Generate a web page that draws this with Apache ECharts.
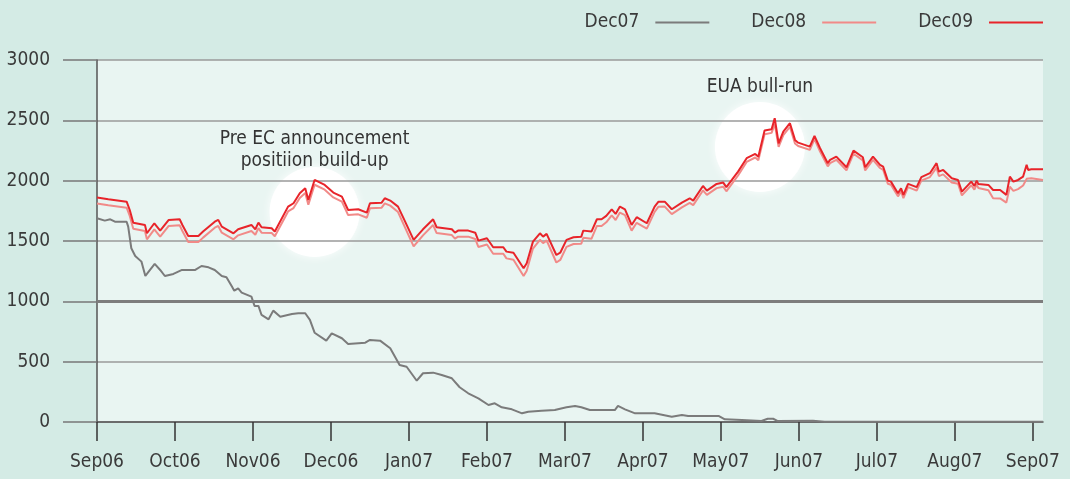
<!DOCTYPE html>
<html>
<head>
<meta charset="utf-8">
<script src="https://cdn.jsdelivr.net/npm/echarts@6/dist/echarts.min.js"></script>
<style>
	html, body { margin: 0; padding: 0; background: #d4ebe5; }
	#chartId { width: 1070px; height: 479px; }
</style>
</head>
<body>
<div id="chartId"></div>
<script>
// x positions are in months since Sep06 (0 = Sep06, 12 = Sep07)
var monthLabels = ["Sep06", "Oct06", "Nov06", "Dec06", "Jan07", "Feb07", "Mar07", "Apr07", "May07", "Jun07", "Jul07", "Aug07", "Sep07"];
var yTicks = [0, 500, 1000, 1500, 2000, 2500, 3000];

// Dec08 and Dec09 share the same dates
var futX = [0, 0.145, 0.38, 0.42, 0.465, 0.615, 0.64, 0.735, 0.81, 0.92, 1.06, 1.095, 1.17, 1.30, 1.36, 1.51, 1.555, 1.60, 1.75, 1.81,
	1.98, 2.03, 2.07, 2.11, 2.24, 2.28, 2.45, 2.52, 2.60, 2.67, 2.71, 2.79, 2.92, 3.03, 3.14, 3.22, 3.35, 3.46, 3.50, 3.65,
	3.69, 3.76, 3.86, 3.93, 4.06, 4.18, 4.31, 4.355, 4.55, 4.59, 4.63, 4.76, 4.85, 4.89, 5.00, 5.08, 5.21, 5.25, 5.34, 5.47,
	5.51, 5.59, 5.68, 5.72, 5.765, 5.89, 5.94, 6.02, 6.11, 6.21, 6.235, 6.34, 6.41, 6.47, 6.53, 6.60, 6.65, 6.705, 6.77, 6.855,
	6.92, 7.05, 7.15, 7.20, 7.28, 7.37, 7.50, 7.60, 7.645, 7.77, 7.82, 7.945, 8.03, 8.07, 8.14, 8.22, 8.33, 8.44, 8.48, 8.56,
	8.65, 8.69, 8.74, 8.80, 8.885, 8.95, 8.99, 9.14, 9.20, 9.27, 9.37, 9.40, 9.48, 9.61, 9.70, 9.82, 9.85, 9.95, 10.04, 10.08,
	10.14, 10.18, 10.27, 10.31, 10.34, 10.40, 10.51, 10.57, 10.68, 10.765, 10.795, 10.85, 10.96, 11.04, 11.09, 11.21, 11.25, 11.28, 11.30, 11.43,
	11.49, 11.58, 11.66, 11.705, 11.75, 11.81, 11.875, 11.92, 11.94, 11.98, 12.13];

var dec09Vals = [1860, 1846, 1826, 1757, 1652, 1633, 1564, 1647, 1586, 1675, 1680, 1633, 1542, 1542, 1578, 1660, 1675, 1619, 1564, 1597,
	1633, 1597, 1652, 1614, 1606, 1578, 1785, 1813, 1896, 1937, 1840, 2006, 1965, 1901, 1868, 1757, 1763, 1735, 1813, 1818,
	1854, 1835, 1785, 1689, 1509, 1597, 1680, 1614, 1597, 1569, 1586, 1586, 1569, 1503, 1523, 1448, 1448, 1412, 1403, 1274,
	1316, 1495, 1564, 1536, 1559, 1384, 1403, 1509, 1531, 1536, 1586, 1578, 1680, 1680, 1708, 1763, 1724, 1785, 1763, 1633,
	1697, 1647, 1785, 1826, 1826, 1763, 1818, 1854, 1835, 1956, 1918, 1973, 1984, 1946, 2006, 2075, 2186, 2222, 2199, 2415,
	2426, 2518, 2310, 2407, 2476, 2338, 2315, 2282, 2371, 2271, 2145, 2172, 2199, 2111, 2249, 2194, 2111, 2199, 2131, 2116,
	2000, 1992, 1896, 1937, 1882, 1973, 1946, 2029, 2062, 2145, 2075, 2089, 2020, 2006, 1909, 1992, 1956, 2000, 1973, 1965,
	1923, 1923, 1882, 2034, 1992, 2006, 2034, 2131, 2089, 2095, 2095];

var dec08Vals = [1810, 1796, 1776, 1707, 1602, 1583, 1514, 1597, 1536, 1625, 1630, 1583, 1492, 1492, 1528, 1610, 1625, 1569, 1514, 1547,
	1583, 1552, 1607, 1569, 1566, 1540, 1745, 1773, 1856, 1897, 1800, 1966, 1925, 1861, 1826, 1715, 1721, 1693, 1771, 1776,
	1812, 1793, 1740, 1640, 1455, 1547, 1632, 1566, 1549, 1519, 1536, 1536, 1517, 1451, 1471, 1394, 1394, 1356, 1345, 1210,
	1254, 1437, 1510, 1482, 1505, 1322, 1343, 1451, 1475, 1478, 1526, 1518, 1625, 1625, 1655, 1712, 1674, 1736, 1715, 1586,
	1651, 1603, 1742, 1784, 1785, 1723, 1779, 1816, 1797, 1919, 1882, 1938, 1950, 1912, 1973, 2043, 2155, 2192, 2169, 2385,
	2396, 2470, 2280, 2377, 2446, 2308, 2287, 2255, 2344, 2244, 2119, 2146, 2173, 2085, 2223, 2168, 2085, 2173, 2105, 2090,
	1974, 1966, 1870, 1911, 1856, 1947, 1918, 2000, 2030, 2108, 2038, 2052, 1985, 1974, 1878, 1962, 1926, 1970, 1940, 1920,
	1855, 1853, 1818, 1950, 1915, 1930, 1960, 2015, 2010, 2020, 2005];

var dec07X = [0, 0.10, 0.17, 0.23, 0.38, 0.40, 0.44, 0.49, 0.57, 0.62, 0.65, 0.74, 0.81, 0.87, 0.98, 1.09, 1.17, 1.26, 1.34, 1.43,
	1.51, 1.60, 1.66, 1.73, 1.76, 1.81, 1.855, 1.98, 2.02, 2.07, 2.11, 2.20, 2.26, 2.35, 2.50, 2.58, 2.67, 2.73, 2.79, 2.94,
	3.01, 3.14, 3.22, 3.44, 3.50, 3.63, 3.76, 3.88, 3.97, 4.10, 4.18, 4.31, 4.42, 4.55, 4.65, 4.76, 4.89, 5.02, 5.10, 5.19,
	5.32, 5.45, 5.53, 5.70, 5.87, 6.02, 6.13, 6.21, 6.32, 6.64, 6.68, 6.77, 6.90, 7.15, 7.37, 7.50, 7.58, 7.97, 8.05, 8.27,
	8.52, 8.60, 8.67, 8.73, 9.18, 9.33, 12.13];
var dec07Vals = [1689, 1669, 1680, 1660, 1660, 1619, 1440, 1376, 1329, 1210, 1235, 1310, 1260, 1210, 1227, 1260, 1260, 1260, 1293, 1282,
	1260, 1210, 1200, 1122, 1088, 1108, 1072, 1039, 962, 962, 887, 851, 923, 873, 895, 901, 901, 846, 740, 674,
	735, 694, 647, 657, 680, 674, 611, 473, 458, 342, 404, 409, 390, 362, 288, 238, 196, 141, 155, 122,
	105, 72, 85, 94, 99, 122, 133, 122, 99, 99, 133, 105, 72, 72, 44, 58, 50, 50, 22, 17,
	8, 27, 27, 8, 11, 3, 2];

// annotation circles: centre positions and captions
var noteX = [2.79, 8.5];
var noteY = [1741, 2280];
var noteText = ["Pre EC announcement\npositiion build-up", "EUA bull-run"];
var noteGap = [-5, 4];

function pairs(xs, ys) {
	var out = [];
	for(var i = 0; i < xs.length; i++) {
		out.push([xs[i], ys[i]]);
	}
	return out;
}

var fontName = '"DejaVu Sans Condensed", "Liberation Sans Narrow", "Liberation Sans", sans-serif';
var monthTicks = [];
for(var i = 0; i < monthLabels.length; i++) {
	monthTicks.push(i);
}

var noteData = [];
for(var i = 0; i < noteX.length; i++) {
	noteData.push({
		value: [noteX[i], noteY[i]],
		name: noteText[i],
		label: { distance: noteGap[i] }
	});
}

var myChart = echarts.init(document.getElementById("chartId"));
var option = {
	backgroundColor: '#d4ebe5',
	animation: false,
	textStyle: { fontFamily: fontName },
	legend: {
		data: ["Dec07", "Dec08", "Dec09"],
		right: 22,
		top: 8,
		align: 'right',
		icon: 'rect',
		itemWidth: 54,
		itemHeight: 2,
		itemGap: 42,
		textStyle: {
			color: '#3a3a3a',
			fontSize: 19,
			fontFamily: fontName,
			padding: [0, 11, 0, 0]
		}
	},
	grid: {
		left: 97,
		right: 27,
		top: 60,
		bottom: 57,
		show: true,
		backgroundColor: '#e9f5f2',
		borderWidth: 0
	},
	xAxis: {
		type: 'value',
		min: 0,
		max: 12.13,
		interval: 1,
		z: 3,
		axisLine: { show: true, lineStyle: { color: '#555', width: 1.5 } },
		axisTick: {
			show: true,
			length: 19,
			customValues: monthTicks,
			lineStyle: { color: '#333', width: 1.5 }
		},
		axisLabel: {
			customValues: monthTicks,
			margin: 31,
			color: '#3a3a3a',
			fontSize: 19,
			fontFamily: fontName,
			formatter: function(v) {
				return monthLabels[Math.round(v)] || '';
			}
		},
		splitLine: { show: false }
	},
	yAxis: {
		type: 'value',
		min: 0,
		max: 3000,
		interval: 500,
		z: 3,
		axisLine: { show: true, lineStyle: { color: '#555', width: 1.5 } },
		axisTick: {
			show: true,
			length: 34,
			lineStyle: { color: '#777', width: 1.5 }
		},
		axisLabel: {
			margin: 47,
			color: '#3a3a3a',
			fontSize: 19,
			fontFamily: fontName,
			formatter: function(v) {
				return yTicks.indexOf(v) > -1 ? String(v) : '';
			}
		},
		splitLine: {
			show: true,
			lineStyle: { color: '#9a9a9a', width: 1.5 }
		}
	},
	series: [{
		name: 'notes',
		type: 'scatter',
		z: 1,
		silent: true,
		symbol: 'circle',
		symbolSize: 90,
		itemStyle: {
			color: '#ffffff',
			opacity: 1,
			shadowBlur: 10,
			shadowColor: 'rgba(255,255,255,0.9)'
		},
		label: {
			show: true,
			position: 'top',
			color: '#333333',
			fontSize: 19,
			lineHeight: 22,
			fontFamily: fontName,
			formatter: function(p) {
				return p.name;
			}
		},
		data: noteData
	}, {
		name: 'Dec07',
		type: 'line',
		z: 4,
		symbol: 'none',
		color: '#7b7b7b',
		lineStyle: { width: 2, color: '#7b7b7b' },
		markLine: {
			silent: true,
			symbol: 'none',
			label: { show: false },
			lineStyle: { color: '#7d7d7d', width: 3, type: 'solid' },
			data: [{ yAxis: 1000 }]
		},
		data: pairs(dec07X, dec07Vals)
	}, {
		name: 'Dec08',
		type: 'line',
		z: 5,
		symbol: 'none',
		color: '#f18a88',
		lineStyle: { width: 2, color: '#f18a88' },
		data: pairs(futX, dec08Vals)
	}, {
		name: 'Dec09',
		type: 'line',
		z: 6,
		symbol: 'none',
		color: '#e8242a',
		lineStyle: { width: 2, color: '#e8242a' },
		data: pairs(futX, dec09Vals)
	}]
};
myChart.setOption(option);
</script>
</body>
</html>
